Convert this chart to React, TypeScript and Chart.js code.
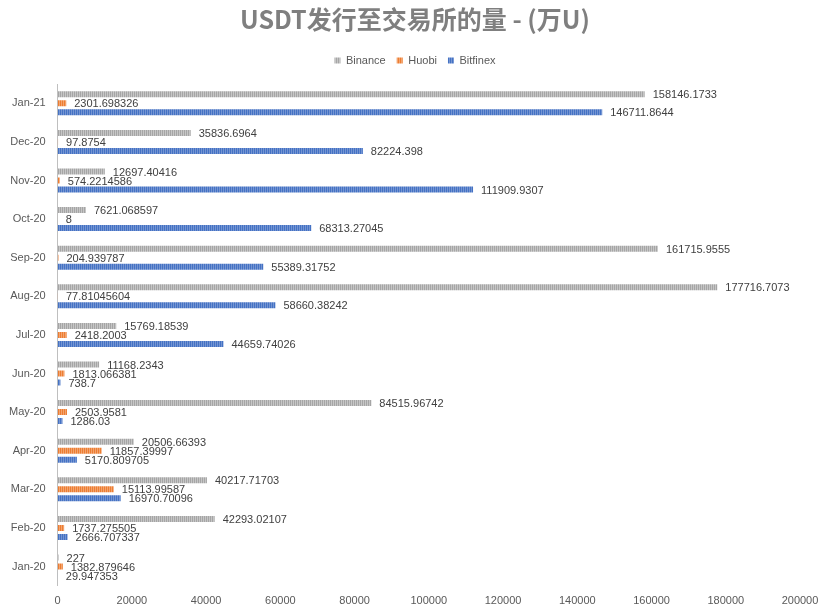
import React, { useEffect, useRef } from "react";
import { Chart, registerables } from "chart.js";

Chart.register(...registerables);

const categories = ["Jan-20", "Feb-20", "Mar-20", "Apr-20", "May-20", "Jun-20", "Jul-20", "Aug-20", "Sep-20", "Oct-20", "Nov-20", "Dec-20", "Jan-21"];
const binance = [227, 42293.02107, 40217.71703, 20506.66393, 84515.96742, 11168.2343, 15769.18539, 177716.7073, 161715.9555, 7621.068597, 12697.40416, 35836.6964, 158146.1733];
const huobi = [1382.879646, 1737.275505, 15113.99587, 11857.39997, 2503.9581, 1813.066381, 2418.2003, 77.81045604, 204.939787, 8, 574.2214586, 97.8754, 2301.698326];
const bitfinex = [29.947353, 2666.707337, 16970.70096, 5170.809705, 1286.03, 738.7, 44659.74026, 58660.38242, 55389.31752, 68313.27045, 111909.9307, 82224.398, 146711.8644];
const xTicks = [0, 20000, 40000, 60000, 80000, 100000, 120000, 140000, 160000, 180000, 200000];

const FONT = "'Liberation Sans', Arial, sans-serif";

function stripe(base: string, light: string): CanvasPattern | string {
  const c = document.createElement("canvas");
  c.width = 2;
  c.height = 1;
  const g = c.getContext("2d");
  if (!g) return base;
  g.fillStyle = base;
  g.fillRect(0, 0, 1, 1);
  g.fillStyle = light;
  g.fillRect(1, 0, 1, 1);
  const p = g.createPattern(c, "repeat");
  return p || base;
}

const valueLabels = {
  id: "valueLabels",
  afterDatasetsDraw(chart: any) {
    const ctx = chart.ctx;
    ctx.save();
    ctx.font = `11px ${FONT}`;
    ctx.fillStyle = "#404040";
    ctx.textAlign = "left";
    ctx.textBaseline = "middle";
    chart.data.datasets.forEach((ds: any, di: number) => {
      const meta = chart.getDatasetMeta(di);
      meta.data.forEach((el: any, i: number) => {
        ctx.fillText(String(ds.data[i]), el.x + 8, el.y + 1);
      });
    });
    ctx.restore();
  },
};

const headerLayout = {
  id: "headerLayout",
  beforeInit(chart: any) {
    const legend = chart.legend;
    if (!legend) return;
    const orig = legend.fit;
    legend.fit = function () {
      orig.call(this);
      this.height += 8;
    };
  },
  afterLayout(chart: any) {
    const w = chart.width;
    [chart.titleBlock, chart.legend].forEach((b: any) => {
      if (!b) return;
      b.left = 0;
      b.right = w;
      b.width = w;
    });
  },
};

export default function App() {
  const ref = useRef<HTMLCanvasElement>(null);
  useEffect(() => {
    if (!ref.current) return;
    const chart = new Chart(ref.current, {
      type: "bar",
      data: {
        labels: categories,
        datasets: [
          { label: "Binance", data: binance, backgroundColor: stripe("#a5a5a5", "#c6c6c6") as any, borderWidth: 0 },
          { label: "Huobi", data: huobi, backgroundColor: stripe("#ed7d31", "#f3a46f") as any, borderWidth: 0 },
          { label: "Bitfinex", data: bitfinex, backgroundColor: stripe("#4472c4", "#7595d2") as any, borderWidth: 0 },
        ],
      },
      options: {
        indexAxis: "y",
        animation: false,
        responsive: false,
        maintainAspectRatio: false,
        layout: { padding: { left: -3, right: 30, top: 0, bottom: -3 } },
        datasets: { bar: { categoryPercentage: 0.7, barPercentage: 0.67 } },
        plugins: {
          title: {
            display: true,
            text: "USDT发行至交易所的量 - (万U)",
            color: "#7f7f7f",
            font: { family: "'Noto Sans CJK SC', sans-serif", size: 25, weight: "bold" },
            padding: { top: 4, bottom: 10 },
          },
          legend: {
            display: true,
            labels: {
              boxWidth: 6,
              boxHeight: 6,
              color: "#595959",
              font: { family: FONT, size: 11 },
              padding: 11,
            },
          },
          tooltip: { enabled: false },
        },
        scales: {
          y: {
            type: "category",
            reverse: true,
            grid: { display: false, drawTicks: false },
            border: { display: true, color: "#bfbfbf", width: 1 },
            ticks: { color: "#595959", font: { family: FONT, size: 11 }, padding: 12 },
          },
          x: {
            type: "linear",
            min: 0,
            max: 200000,
            afterBuildTicks: (s: any) => { s.ticks = xTicks.map((v) => ({ value: v })); },
            grid: { display: false, drawTicks: false },
            border: { display: false },
            ticks: {
              color: "#595959",
              font: { family: FONT, size: 11 },
              padding: 9,
              maxRotation: 0,
              autoSkip: false,
              callback: (v: any) => String(v),
            },
          },
        },
      },
      plugins: [valueLabels, headerLayout],
    });
    return () => chart.destroy();
  }, []);
  return (
    <div style={{ position: "fixed", left: 0, top: 0, width: 830, height: 614, background: "#fff" }}>
      <canvas ref={ref} width={830} height={614} style={{ width: 830, height: 614 }} />
    </div>
  );
}
